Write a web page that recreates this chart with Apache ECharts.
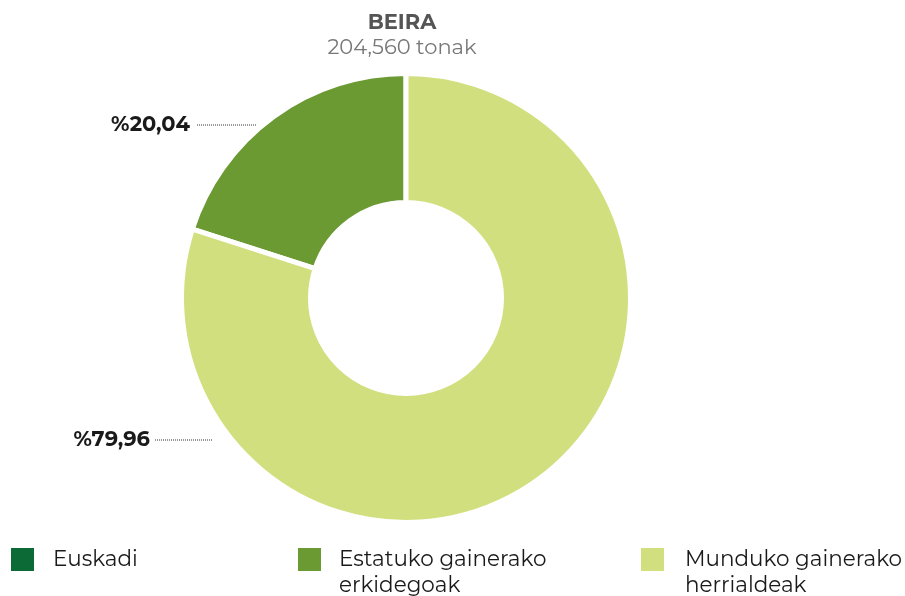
<!DOCTYPE html>
<html>
<head>
<meta charset="utf-8">
<script src="https://cdn.jsdelivr.net/npm/echarts@6/dist/echarts.min.js"></script>
<style>
  html, body { margin: 0; padding: 0; background: #fff; }
  #chart { width: 905px; height: 596px; }
</style>
</head>
<body>
<div id="chart"></div>
<script>
// data
var categories = ['Euskadi', 'Estatuko gainerako\nerkidegoak', 'Munduko gainerako\nherrialdeak'];
var shares = [0, 20.04, 79.96];
var colors = ['#0b6a35', '#6b9a33', '#d2df7e'];
var titleText = 'BEIRA';
var subText = '204,560 tonak';

// where the labels sit (right edge x, y, line start, line end)
var labelSpots = {
    1: { x: 190, y: 125, x1: 197, x2: 256 },
    2: { x: 150, y: 440, x1: 155, x2: 213 }
};
var legendLeft = [11, 298, 641];
var legendGap = [14, 13, 16];

var font = 'Montserrat, Inter, sans-serif';
var lineH = 26;
var iconMid = 559.5;

var myChart = echarts.init(document.getElementById('chart'));

var pieData = categories.map(function (name, i) {
    var item = { name: name, value: shares[i], itemStyle: { color: colors[i] } };
    if (!shares[i]) {
        item.label = { show: false };
        item.labelLine = { show: false };
    }
    return item;
});

// legend text is centred on the icon, so a blank line above two-line names
// keeps their first line level with the icon
var legends = categories.map(function (name, i) {
    var multi = name.indexOf('\n') >= 0;
    return {
        left: legendLeft[i],
        top: multi ? iconMid - lineH * 1.5 : iconMid - lineH / 2,
        padding: 0,
        orient: 'horizontal',
        itemWidth: 23,
        itemHeight: 23,
        icon: 'rect',
        selectedMode: false,
        itemStyle: { borderWidth: 0 },
        data: [name],
        formatter: function (n) {
            return multi ? ' \n' + n : n;
        },
        textStyle: {
            fontFamily: font,
            fontSize: 21.5,
            color: '#1a1a1a',
            lineHeight: lineH,
            padding: [0, 0, 0, legendGap[i]]
        }
    };
});

var option = {
    animation: false,
    title: {
        text: titleText,
        subtext: subText,
        left: 397,
        textAlign: 'center',
        top: 7,
        itemGap: 4,
        textStyle: { fontFamily: font, fontSize: 21, fontWeight: 'bold', color: '#555' },
        subtextStyle: { fontFamily: font, fontSize: 21, color: '#777' }
    },
    legend: legends,
    series: [
        {
            type: 'pie',
            center: [406, 298],
            radius: [95.5, 224.5],
            startAngle: 90,
            clockwise: false,
            silent: true,
            itemStyle: { borderColor: '#fff', borderWidth: 5 },
            label: {
                show: true,
                position: 'outside',
                fontFamily: font,
                fontSize: 21,
                fontWeight: 'bold',
                color: '#1a1a1a',
                formatter: function (p) {
                    return '%' + p.value.toFixed(2).replace('.', ',');
                }
            },
            labelLine: {
                show: true,
                lineStyle: { type: [1, 1], color: '#333', width: 1 }
            },
            labelLayout: function (params) {
                var s = labelSpots[params.dataIndex];
                if (!s) return {};
                return {
                    x: s.x,
                    y: s.y,
                    align: 'right',
                    verticalAlign: 'middle',
                    labelLinePoints: [[s.x1, s.y], [(s.x1 + s.x2) / 2, s.y], [s.x2, s.y]]
                };
            },
            data: pieData
        }
    ]
};

option && myChart.setOption(option);
</script>
</body>
</html>
